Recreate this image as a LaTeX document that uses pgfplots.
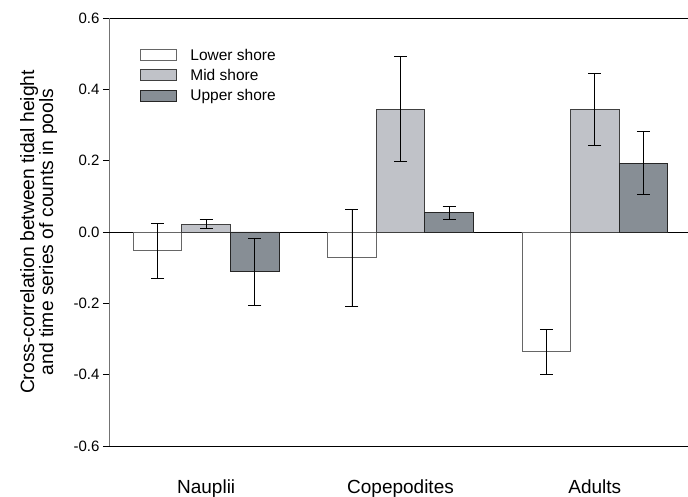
\documentclass[border=0pt]{standalone}
\usepackage{pgfplots}
\pgfplotsset{compat=1.18}
\usepackage{fontspec}
\setmainfont{Liberation Sans}
\definecolor{midc}{RGB}{192,194,200}
\definecolor{upc}{RGB}{135,142,149}
\begin{document}
\begin{tikzpicture}
\begin{axis}[
  at={(0,0)}, anchor=south west,
  scale only axis, width=583pt, height=428pt,
  xmin=-0.5, xmax=2.5, ymin=-0.6, ymax=0.6,
  ybar=0pt, bar width=0.25,
  legend image code/.code={\draw[#1] (0pt,-5.5pt) rectangle (36pt,5.5pt);},
  axis x line*=box, axis y line*=left,
  x axis line style={black, line width=0.8pt},
  y axis line style={black!55, line width=0.9pt},
  xtick={0,1,2}, xticklabels={Nauplii,Copepodites,Adults},
  x tick style={draw=none},
  xticklabel style={font=\fontsize{19}{22}\selectfont, yshift=-24pt},
  ytick={-0.6,-0.4,-0.2,0,0.2,0.4,0.6},
  yticklabels={-0.6,-0.4,-0.2,0.0,0.2,0.4,0.6},
  yticklabel style={font=\fontsize{15}{18}\selectfont},
  y tick style={black, line width=0.8pt},
  tick align=outside, major tick length=6pt,
  minor tick num=0,
  extra y ticks={0}, extra y tick labels={},
  extra y tick style={grid=major, major grid style={black, line width=0.8pt}, tick style={draw=none}},
  ylabel={Cross-correlation between tidal height\\and time series of counts in pools},
  ylabel style={at={(axis description cs:-0.083,0.5)}, anchor=south, rotate=0, align=center, font=\fontsize{19.3}{17.5}\selectfont},
  legend style={at={(axis description cs:0.053,0.932)}, anchor=north west, draw=none, fill=none,
    font=\fontsize{15.5}{18}\selectfont, row sep=4.5pt, inner sep=0pt,
    nodes={inner sep=1.5pt},
    /tikz/every odd column/.append style={column sep=12pt}},
  legend cell align=left,
  error bars/y dir=both, error bars/y explicit,
  error bars/error bar style={black, line width=0.8pt},
  error bars/error mark options={rotate=90, black, mark size=6.5pt, line width=0.8pt},
]
\addplot[fill=white, draw=black!60, line width=0.8pt] coordinates {
  (0,-0.053) +- (0,0.077)
  (1,-0.072) +- (0,0.136)
  (2,-0.336) +- (0,0.062)
};
\addplot[fill=midc, draw=black!75, line width=0.8pt] coordinates {
  (0,0.022) +- (0,0.012)
  (1,0.344) +- (0,0.147)
  (2,0.344) +- (0,0.100)
};
\addplot[fill=upc, draw=black!85, line width=0.8pt] coordinates {
  (0,-0.111) +- (0,0.094)
  (1,0.054) +- (0,0.018)
  (2,0.193) +- (0,0.089)
};
\legend{Lower shore, Mid shore, Upper shore}
\end{axis}
\pgfresetboundingbox
\path (-109pt,-51pt) rectangle (579pt,446pt);
\end{tikzpicture}
\end{document}
